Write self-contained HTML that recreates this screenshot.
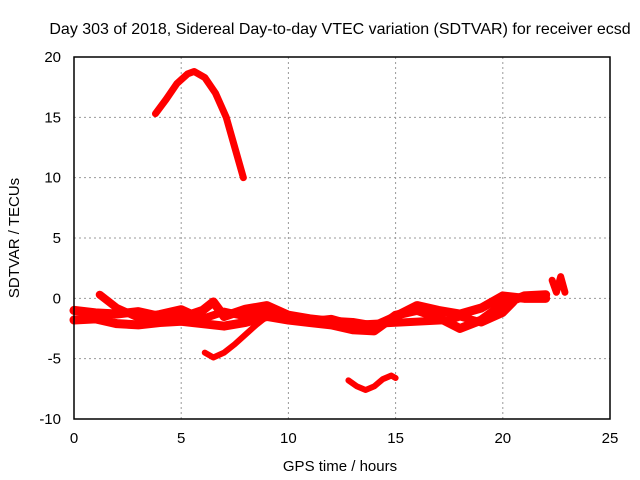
<!DOCTYPE html>
<html><head><meta charset="utf-8"><style>
body{margin:0;background:#fff;}
svg{display:block;font-family:"Liberation Sans",sans-serif;}
</style></head><body>
<svg id="chart" width="640" height="480">
<text x="340" y="34" font-size="16" text-anchor="middle">Day 303 of 2018, Sidereal Day-to-day VTEC variation (SDTVAR) for receiver ecsd</text>
<text x="340" y="471" font-size="15" text-anchor="middle">GPS time / hours</text>
<text transform="translate(19,238) rotate(-90)" font-size="15" text-anchor="middle">SDTVAR / TECUs</text>
<g id="grid"></g><g id="data"></g>
<rect x="74" y="57" width="536" height="362" fill="none" stroke="#000" stroke-width="1.5"/>
</svg>
<script>
const xTicks=[0,5,10,15,20,25];
const yTicks=[-10,-5,0,5,10,15,20];
const topArcT=[3.8,4.3,4.8,5.3,5.6,6.1,6.6,7.1,7.5,7.9];
const topArcV=[15.3,16.5,17.8,18.6,18.8,18.3,17.0,15.0,12.5,10.0];
const dipT=[6.1,6.5,7.0,7.5,8.0,8.5,9.0];
const dipV=[-4.5,-4.9,-4.5,-3.8,-3.0,-2.2,-1.5];
const lowT=[12.8,13.2,13.6,14.0,14.4,14.8,15.0];
const lowV=[-6.8,-7.3,-7.6,-7.3,-6.7,-6.4,-6.6];
const bandAT=[0,1,2,3,4,5,6,6.5,7,8,9,10,11,12,13,14,15,16,17,18,19,20,21,22];
const bandAV=[-1.0,-1.2,-1.3,-1.1,-1.5,-1.6,-1.0,-0.3,-1.5,-0.9,-0.6,-1.4,-1.7,-1.9,-2.0,-2.3,-1.5,-0.6,-1.0,-1.3,-0.8,0.2,0,0];
const bandBT=[0,1,2,3,4,5,6,7,8,9,10,11,12,13,14,15,16,17,18,19,20,21,22];
const bandBV=[-1.8,-1.7,-2.1,-2.2,-2.0,-1.9,-2.1,-2.3,-2.0,-1.5,-1.8,-2.0,-2.2,-2.6,-2.7,-1.4,-1.0,-1.6,-2.5,-1.8,-0.5,0.2,0.3];
const bandCT=[1.2,2,3,4,5,6,7,8,9,10,11,12,13,17.5,18,19,20,20.5];
const bandCV=[0.3,-0.8,-1.6,-1.3,-0.9,-1.7,-1.1,-1.5,-1.2,-1.6,-1.9,-1.7,-2.2,-1.8,-1.5,-2.0,-1.2,-0.3];
const tailT=[22.3,22.5,22.7,22.9];
const tailV=[1.5,0.5,1.8,0.5];
const X=t=>74+t*536/25, Y=v=>419-(v+10)*362/30;
const NS="http://www.w3.org/2000/svg";
const g=document.getElementById('grid'), d=document.getElementById('data');
function mk(p,tag,a){const e=document.createElementNS(NS,tag);for(const k in a)e.setAttribute(k,a[k]);p.appendChild(e);return e;}
xTicks.forEach(t=>{
 if(t>0&&t<25){const l=mk(g,'line',{x1:X(t),x2:X(t),y1:57,y2:419,stroke:'#999','stroke-dasharray':'2,3'});
 }
 const tx=mk(g,'text',{x:X(t),y:443,'font-size':15,'text-anchor':'middle'});tx.textContent=t;
 
 
});
yTicks.forEach(v=>{
 if(v>-10&&v<20){const l=mk(g,'line',{x1:74,x2:610,y1:Y(v),y2:Y(v),stroke:'#999','stroke-dasharray':'2,3'});
 }
 const tx=mk(g,'text',{x:61,y:Y(v)+5,'font-size':15,'text-anchor':'end'});tx.textContent=v;
 
 
});
function series(T,V,w,name){
 const pts=T.map((t,i)=>X(t)+','+Y(V[i])).join(' ');
 const p=mk(d,'polyline',{points:pts,fill:'none',stroke:'#f00','stroke-width':w,'stroke-linejoin':'round','stroke-linecap':'round'});
 
 
}
series(topArcT,topArcV,7,'series-arc-high');
series(dipT,dipV,6,'series-dip');
series(lowT,lowV,6,'series-low');
series(bandAT,bandAV,9,'series-band-a');
series(bandBT,bandBV,9,'series-band-b');
series(bandCT,bandCV,8,'series-band-c');
series(tailT,tailV,7,'series-tail');
</script>
</body></html>
